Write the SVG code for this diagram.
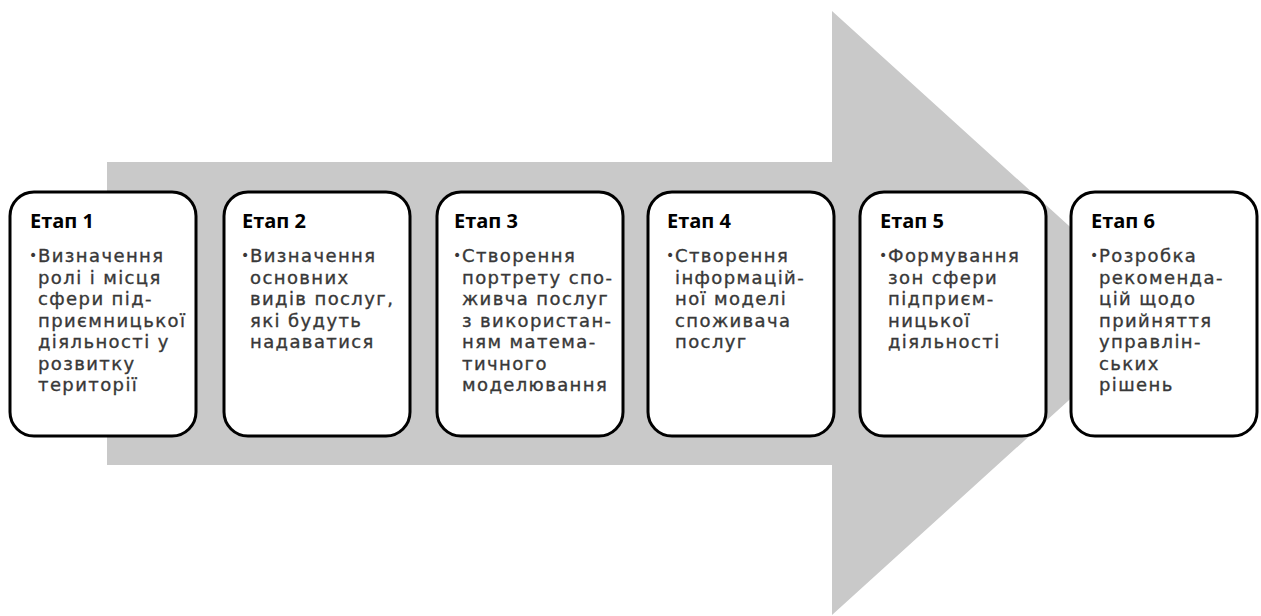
<svg xmlns="http://www.w3.org/2000/svg" width="1261" height="616" viewBox="0 0 1261 616">
<style>
.box{fill:#fff;stroke:#000;stroke-width:3}
.t{font-family:"Open Sans","Noto Sans",sans-serif;font-weight:bold;font-size:20px;fill:#000}
.b{font-family:"DejaVu Sans",sans-serif;font-size:18px;fill:#383838;stroke:#383838;stroke-width:0.35px;letter-spacing:1.4px}
.d{font-family:"DejaVu Sans",sans-serif;font-size:14px;fill:#383838}
</style>
<rect width="1261" height="616" fill="#fff"/>
<g id="arrow"><polygon points="107,162 832,162 832,11 1165,313 832,615 832,465 107,465" fill="#c9c9c9"/></g>
<g id="stage1">
<rect class="box" x="10" y="192" width="186" height="244" rx="24"/>
<text class="t" x="30" y="228">Етап 1</text>
<text class="d" x="29" y="260">•</text>
<text class="b" x="38" y="262">Визначення<tspan x="38" y="283.5">ролі і місця</tspan><tspan x="38" y="305">сфери під-</tspan><tspan x="38" y="326.5">приємницької</tspan><tspan x="38" y="348">діяльності у</tspan><tspan x="38" y="369.5">розвитку</tspan><tspan x="38" y="391">території</tspan></text>
</g>
<g id="stage2">
<rect class="box" x="224" y="192" width="186" height="244" rx="24"/>
<text class="t" x="242" y="228">Етап 2</text>
<text class="d" x="241" y="260">•</text>
<text class="b" x="250" y="262">Визначення<tspan x="250" y="283.5">основних</tspan><tspan x="250" y="305">видів послуг,</tspan><tspan x="250" y="326.5">які будуть</tspan><tspan x="250" y="348">надаватися</tspan></text>
</g>
<g id="stage3">
<rect class="box" x="437" y="192" width="186" height="244" rx="24"/>
<text class="t" x="454" y="228">Етап 3</text>
<text class="d" x="453" y="260">•</text>
<text class="b" x="462" y="262">Створення<tspan x="462" y="283.5">портрету спо-</tspan><tspan x="462" y="305">живча послуг</tspan><tspan x="462" y="326.5">з використан-</tspan><tspan x="462" y="348">ням матема-</tspan><tspan x="462" y="369.5">тичного</tspan><tspan x="462" y="391">моделювання</tspan></text>
</g>
<g id="stage4">
<rect class="box" x="648" y="192" width="186" height="244" rx="24"/>
<text class="t" x="667" y="228">Етап 4</text>
<text class="d" x="666" y="260">•</text>
<text class="b" x="675" y="262">Створення<tspan x="675" y="283.5">інформацій-</tspan><tspan x="675" y="305">ної моделі</tspan><tspan x="675" y="326.5">споживача</tspan><tspan x="675" y="348">послуг</tspan></text>
</g>
<g id="stage5">
<rect class="box" x="860" y="192" width="186" height="244" rx="24"/>
<text class="t" x="880" y="228">Етап 5</text>
<text class="d" x="879" y="260">•</text>
<text class="b" x="888" y="262">Формування<tspan x="888" y="283.5">зон сфери</tspan><tspan x="888" y="305">підприєм-</tspan><tspan x="888" y="326.5">ницької</tspan><tspan x="888" y="348">діяльності</tspan></text>
</g>
<g id="stage6">
<rect class="box" x="1071" y="192" width="186" height="244" rx="24"/>
<text class="t" x="1091" y="228">Етап 6</text>
<text class="d" x="1090" y="260">•</text>
<text class="b" x="1099" y="262">Розробка<tspan x="1099" y="283.5">рекоменда-</tspan><tspan x="1099" y="305">цій щодо</tspan><tspan x="1099" y="326.5">прийняття</tspan><tspan x="1099" y="348">управлін-</tspan><tspan x="1099" y="369.5">ських</tspan><tspan x="1099" y="391">рішень</tspan></text>
</g>
</svg>
